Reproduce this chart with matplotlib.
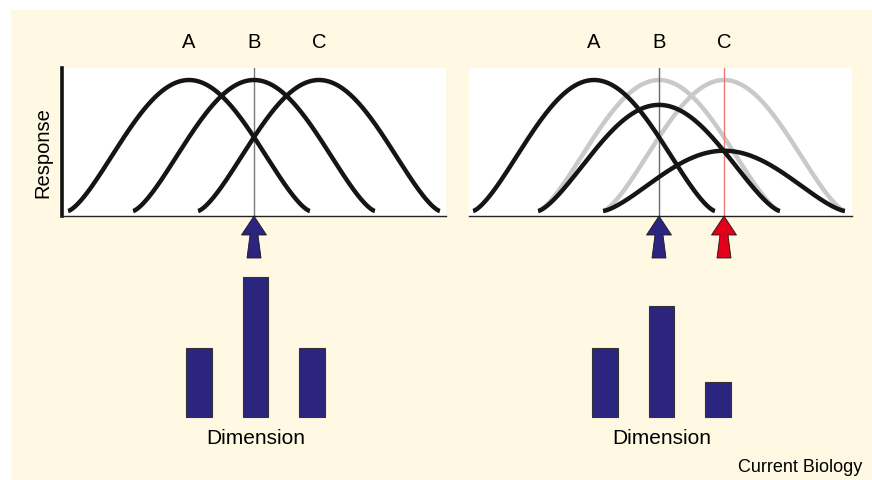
import numpy as np
import matplotlib.pyplot as plt
import matplotlib.transforms as mtransforms
from matplotlib.patches import Polygon, Rectangle

plt.rcParams['font.family'] = ['Liberation Sans', 'DejaVu Sans']

W, H = 872, 480

# tuning channels and their preferred values along the stimulus dimension
channels = ['A', 'B', 'C']
centers = [-1.0, 0.0, 1.0]
half_width = 1.86
shape_exp = 0.7

# channel gains before and after adaptation
gain_before = [1.0, 1.0, 1.0]
gain_after = [1.0, 0.81, 0.46]

# population response to a stimulus at B
resp_before = [0.49, 1.0, 0.49]
resp_after = [0.49, 0.79, 0.25]

# stimulus positions (test at B, adapter at C)
test_stim = 0.0
adapt_stim = 1.0

navy = '#2b2580'
red = '#e3001b'
cream = '#fff9e3'


def tuning(c, g):
    x = np.linspace(c - half_width, c + half_width, 300)
    y = g * ((1 + np.cos(np.pi * (x - c) / half_width)) / 2) ** shape_exp
    return x, y


def px_axes(fig, x0, y0, x1, y1):
    return fig.add_axes([x0 / W, 1 - y1 / H, (x1 - x0) / W, (y1 - y0) / H])


def arrow(fig, ax, x, color):
    # arrow sits under the axis with its tip on the axis line (sizes in inches)
    verts = [(0, 0), (0.125, -0.19), (0.04, -0.19), (0.07, -0.42),
             (-0.07, -0.42), (-0.04, -0.19), (-0.125, -0.19)]
    trans = fig.dpi_scale_trans + mtransforms.ScaledTranslation(
        x, ax.get_ylim()[0], ax.transData)
    fig.add_artist(Polygon(verts, closed=True, transform=trans, facecolor=color,
                           edgecolor='#1a1a1a', lw=0.6, clip_on=False))


def curve_axes(fig, x0, x1, xb, left_spine):
    ax = px_axes(fig, x0, 68, x1, 216)
    ax.set_facecolor('white')
    ax.set_xlim(-(xb - x0) / 65, (x1 - xb) / 65)
    ax.set_ylim(-5 / 131, 143 / 131)
    ax.set_xticks([])
    ax.set_yticks([])
    for s in ['top', 'right']:
        ax.spines[s].set_visible(False)
    ax.spines['bottom'].set_linewidth(1.0)
    ax.spines['bottom'].set_color('#222222')
    if left_spine:
        ax.spines['left'].set_linewidth(2.6)
        ax.spines['left'].set_color('#111111')
    else:
        ax.spines['left'].set_visible(False)
    return ax


def bar_axes(fig, x_first, values):
    step = 56.5
    ax = px_axes(fig, x_first - step / 2, 277, x_first + 2.5 * step, 417)
    ax.bar(range(len(values)), values, width=0.46, color=navy,
           edgecolor='#333333', lw=0.8, clip_on=False)
    ax.set_xlim(-0.5, 2.5)
    ax.set_ylim(0, 1)
    ax.axis('off')
    return ax


fig = plt.figure(figsize=(W / 100, H / 100), dpi=100)
fig.patch.set_facecolor('white')
fig.add_artist(Rectangle((11 / W, 0), 1 - 11 / W, 1 - 10 / H,
                         transform=fig.transFigure, facecolor=cream,
                         edgecolor='none', zorder=-10))

# before adaptation
ax1 = curve_axes(fig, 62, 446, 254, True)
ax1.axvline(test_stim, color='#7a7a7a', lw=1.0, zorder=2)
for c, g in zip(centers, gain_before):
    x, y = tuning(c, g)
    ax1.plot(x, y, color='#151515', lw=3.2, solid_capstyle='butt', zorder=3)
arrow(fig, ax1, test_stim, navy)

# after adaptation
ax2 = curve_axes(fig, 469, 852, 659, False)
for c, g in zip(centers[1:], gain_before[1:]):
    x, y = tuning(c, g)
    ax2.plot(x, y, color='#c9c9c9', lw=3.2, solid_capstyle='butt', zorder=1)
ax2.axvline(test_stim, color='#6a6a6a', lw=1.0, zorder=2)
ax2.axvline(adapt_stim, color='#f07878', lw=1.0, zorder=2)
for c, g in zip(centers, gain_after):
    x, y = tuning(c, g)
    ax2.plot(x, y, color='#151515', lw=3.2, solid_capstyle='butt', zorder=3)
arrow(fig, ax2, test_stim, navy)
arrow(fig, ax2, adapt_stim, red)

# channel labels above each panel
for ax in (ax1, ax2):
    for name, c in zip(channels, centers):
        xd = ax.transData.transform((c, 0))[0]
        fig.text(xd / W, 1 - 42 / H, name, ha='center', va='center', fontsize=14.5)

bar_axes(fig, 199, resp_before)
bar_axes(fig, 605, resp_after)

fig.text(43 / W, 1 - 153 / H, 'Response', rotation=90, ha='center', va='center', fontsize=14.5)
fig.text(256 / W, 1 - 438 / H, 'Dimension', ha='center', va='center', fontsize=15)
fig.text(662 / W, 1 - 438 / H, 'Dimension', ha='center', va='center', fontsize=15)
fig.text(862 / W, 1 - 468 / H, 'Current Biology', ha='right', va='center', fontsize=13)

fig.savefig('out.png', dpi=100)
